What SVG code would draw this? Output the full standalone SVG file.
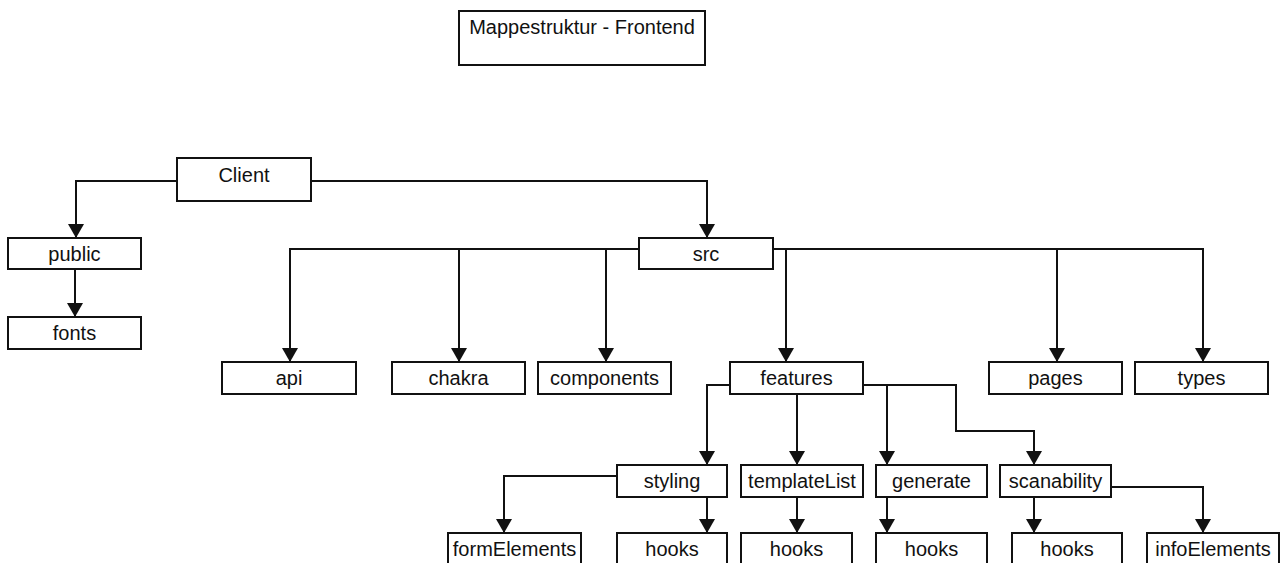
<svg xmlns="http://www.w3.org/2000/svg" width="1284" height="563" viewBox="0 0 1284 563">
<style>
.box{fill:#fff;stroke:#111;stroke-width:2}
.lbl{font-family:"Liberation Sans",Arial,Helvetica,sans-serif;font-size:20px;fill:#111;text-anchor:middle}
.con{fill:none;stroke:#111;stroke-width:2}
</style>
<defs>
<marker id="arr" viewBox="0 -8 14 16" refX="14" refY="0" markerWidth="14" markerHeight="16" markerUnits="userSpaceOnUse" orient="auto">
<path d="M0,-8 L14,0 L0,8 z" fill="#111"/>
</marker>
</defs>
<rect width="1284" height="563" fill="#fff"/>
<g id="connectors">
<path class="con" marker-end="url(#arr)" d="M177,181 H76 V238"/>
<path class="con" marker-end="url(#arr)" d="M311,181 H707 V238"/>
<path class="con" marker-end="url(#arr)" d="M75,269 V317"/>
<path class="con" marker-end="url(#arr)" d="M639,249 H290 V362"/>
<path class="con" marker-end="url(#arr)" d="M639,249 H459 V362"/>
<path class="con" marker-end="url(#arr)" d="M639,249 H606 V362"/>
<path class="con" marker-end="url(#arr)" d="M773,249 H786 V362"/>
<path class="con" marker-end="url(#arr)" d="M773,249 H1057 V362"/>
<path class="con" marker-end="url(#arr)" d="M773,249 H1203 V362"/>
<path class="con" marker-end="url(#arr)" d="M730,385 H707 V465"/>
<path class="con" marker-end="url(#arr)" d="M797,394 V465"/>
<path class="con" marker-end="url(#arr)" d="M863,385 H887 V465"/>
<path class="con" marker-end="url(#arr)" d="M863,385 H956 V431 H1034 V465"/>
<path class="con" marker-end="url(#arr)" d="M617,476 H504 V533"/>
<path class="con" marker-end="url(#arr)" d="M707,497 V533"/>
<path class="con" marker-end="url(#arr)" d="M797,497 V533"/>
<path class="con" marker-end="url(#arr)" d="M887,497 V533"/>
<path class="con" marker-end="url(#arr)" d="M1034,497 V533"/>
<path class="con" marker-end="url(#arr)" d="M1111,487 H1203 V533"/>
</g>
<g id="title"><rect class="box" x="459" y="11" width="246" height="54"/><text class="lbl" x="582" y="34">Mappestruktur - Frontend</text></g>
<g id="client"><rect class="box" x="177" y="158" width="134" height="43"/><text class="lbl" x="244" y="182">Client</text></g>
<g id="public"><rect class="box" x="8" y="238" width="133" height="31"/><text class="lbl" x="74.5" y="261">public</text></g>
<g id="fonts"><rect class="box" x="8" y="317" width="133" height="32"/><text class="lbl" x="74.5" y="340">fonts</text></g>
<g id="src"><rect class="box" x="639" y="238" width="134" height="31"/><text class="lbl" x="706" y="261">src</text></g>
<g id="api"><rect class="box" x="222" y="362" width="134" height="32"/><text class="lbl" x="289" y="385">api</text></g>
<g id="chakra"><rect class="box" x="392" y="362" width="133" height="32"/><text class="lbl" x="458.5" y="385">chakra</text></g>
<g id="components"><rect class="box" x="538" y="362" width="133" height="32"/><text class="lbl" x="604.5" y="385">components</text></g>
<g id="features"><rect class="box" x="730" y="362" width="133" height="32"/><text class="lbl" x="796.5" y="385">features</text></g>
<g id="pages"><rect class="box" x="989" y="362" width="133" height="32"/><text class="lbl" x="1055.5" y="385">pages</text></g>
<g id="types"><rect class="box" x="1135" y="362" width="133" height="32"/><text class="lbl" x="1201.5" y="385">types</text></g>
<g id="styling"><rect class="box" x="617" y="465" width="110" height="32"/><text class="lbl" x="672" y="488">styling</text></g>
<g id="templateList"><rect class="box" x="741" y="465" width="122" height="32"/><text class="lbl" x="802" y="488">templateList</text></g>
<g id="generate"><rect class="box" x="876" y="465" width="111" height="32"/><text class="lbl" x="931.5" y="488">generate</text></g>
<g id="scanability"><rect class="box" x="1000" y="465" width="111" height="32"/><text class="lbl" x="1055.5" y="488">scanability</text></g>
<g id="formElements"><rect class="box" x="448" y="533" width="133" height="32"/><text class="lbl" x="514.5" y="556">formElements</text></g>
<g id="styling-hooks"><rect class="box" x="617" y="533" width="110" height="32"/><text class="lbl" x="672" y="556">hooks</text></g>
<g id="templateList-hooks"><rect class="box" x="741" y="533" width="111" height="32"/><text class="lbl" x="796.5" y="556">hooks</text></g>
<g id="generate-hooks"><rect class="box" x="876" y="533" width="111" height="32"/><text class="lbl" x="931.5" y="556">hooks</text></g>
<g id="scanability-hooks"><rect class="box" x="1012" y="533" width="110" height="32"/><text class="lbl" x="1067" y="556">hooks</text></g>
<g id="infoElements"><rect class="box" x="1147" y="533" width="132" height="32"/><text class="lbl" x="1213" y="556">infoElements</text></g>
</svg>
